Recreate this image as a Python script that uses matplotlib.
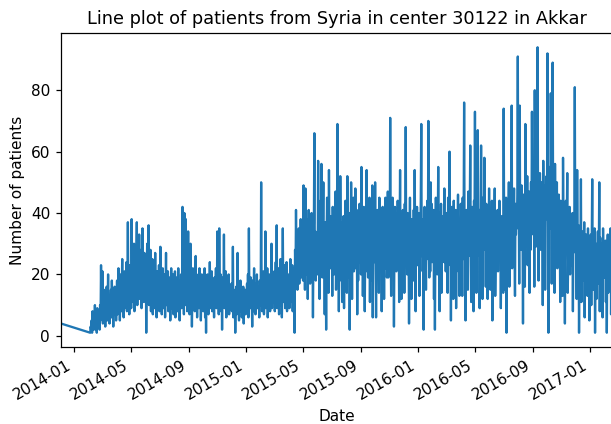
import numpy as np
import pandas as pd
import matplotlib
matplotlib.use("Agg")
import matplotlib.pyplot as plt
import matplotlib.dates as mdates

# daily patient counts, center 30122 (Akkar), patients from Syria
first_date = "2013-12-04"
first_count = 4
daily_start = "2014-02-04"

counts_2014 = [
    1, 3, 2, 5, 1, 8, 4, 2, 6, 3, 10, 2, 5, 7, 1, 9, 4, 6, 3, 8, 2, 10, 5, 23, 6,
    12, 21, 4, 9, 15, 6, 11, 3, 14, 8, 16, 5, 10, 20, 7, 13, 4, 12, 9, 15, 6, 18, 8, 11, 3, 14, 9, 16, 7, 12, 5,
    10, 18, 7, 14, 22, 9, 16, 5, 12, 20, 8, 15, 25, 10, 17, 6, 13, 21, 9, 18, 11, 24, 8, 15, 37, 12, 19, 7, 23, 14,
    20, 9, 38, 15, 26, 11, 22, 30, 8, 18, 27, 13, 24, 37, 10, 21, 29, 14, 33, 12, 25, 17, 28, 9, 20, 35, 16, 23, 11, 27, 19,
    14, 26, 1, 21, 30, 12, 18, 36, 10, 24, 16, 28, 8, 20, 13, 25, 7, 22, 15, 19, 9, 27, 12, 17, 6, 21, 14, 18, 10, 23,
    8, 16, 29, 11, 19, 7, 14, 22, 9, 17, 12, 20, 6, 15, 27, 10, 18, 13, 21, 8, 16, 11, 19, 5, 14, 22, 9, 17, 12, 20, 7,
    15, 10, 21, 6, 17, 12, 19, 8, 14, 22, 11, 16, 5, 18, 13, 20, 9, 15, 42, 12, 19, 7, 40, 16, 10, 38, 14, 21, 8, 17, 34,
    12, 20, 7, 16, 30, 11, 18, 3, 15, 22, 9, 14, 19, 8, 17, 26, 12, 20, 6, 15, 11, 18, 9, 22, 13, 17, 5, 14, 20, 10,
    16, 8, 19, 12, 22, 6, 15, 1, 18, 10, 20, 13, 7, 17, 11, 24, 9, 16, 14, 21, 8, 18, 12, 15, 6, 19, 11, 17, 22, 9, 14,
    34, 12, 18, 7, 35, 15, 10, 20, 8, 16, 2, 14, 19, 11, 33, 9, 17, 13, 21, 6, 15, 12, 18, 10, 20, 7, 14, 16, 9, 13,
    17, 8, 12, 29, 6, 15, 10, 14, 1, 11, 16, 7, 13, 27, 9, 12, 5, 15, 10, 18, 8, 13, 6, 14, 11, 16, 4, 12, 9, 15, 7,
]

counts_2015 = [
    13, 8, 17, 10, 20, 6, 35, 12, 16, 9, 19, 11, 14, 3, 18, 8, 15, 22, 10, 13, 7, 17, 12, 20, 9, 16, 11, 14, 6, 18, 13,
    10, 50, 15, 8, 19, 12, 21, 7, 16, 13, 34, 9, 18, 11, 22, 6, 14, 17, 10, 20, 8, 15, 12, 30, 9, 17, 13, 19,
    11, 21, 8, 16, 24, 12, 36, 9, 18, 14, 22, 7, 17, 13, 25, 10, 19, 6, 15, 35, 11, 20, 14, 23, 9, 17, 12, 24, 8, 18, 15,
    12, 20, 9, 17, 25, 11, 19, 14, 23, 8, 18, 15, 22, 1, 28, 18, 41, 24, 32, 15, 27, 20, 35, 17, 30, 22, 38, 19, 28, 25,
    30, 18, 49, 24, 35, 15, 48, 27, 38, 20, 32, 12, 29, 41, 22, 36, 17, 33, 25, 40, 19, 31, 6, 28, 37, 66, 23, 34, 18, 30, 26,
    32, 20, 57, 27, 38, 12, 30, 44, 22, 56, 29, 19, 35, 50, 25, 33, 7, 37, 27, 2, 31, 45, 23, 36, 14, 54, 28, 34, 22, 39,
    26, 35, 13, 42, 29, 33, 20, 38, 22, 47, 15, 31, 36, 69, 22, 40, 8, 34, 18, 52, 30, 25, 37, 11, 32, 28, 39, 9, 35, 26, 44,
    23, 36, 14, 52, 19, 33, 27, 40, 2, 31, 24, 50, 35, 12, 38, 28, 45, 21, 34, 26, 48, 22, 32, 41, 7, 30, 18, 37, 28, 43, 24,
    35, 20, 55, 28, 38, 13, 32, 42, 25, 8, 30, 36, 22, 54, 21, 40, 19, 33, 29, 45, 11, 37, 18, 31, 26, 49, 6, 34, 28, 41,
    24, 50, 30, 6, 36, 22, 41, 27, 33, 14, 45, 29, 38, 23, 35, 8, 31, 42, 26, 37, 12, 34, 28, 45, 22, 39, 19, 25, 47, 19, 33,
    40, 27, 71, 32, 13, 38, 29, 45, 24, 35, 3, 30, 42, 26, 37, 21, 33, 28, 44, 25, 36, 11, 31, 54, 27, 39, 12, 34, 29, 41,
    26, 37, 14, 43, 30, 68, 25, 35, 20, 40, 22, 33, 4, 31, 45, 27, 36, 12, 38, 29, 34, 18, 41, 26, 54, 32, 8, 37, 28, 42, 23,
]

counts_2016 = [
    33, 27, 40, 13, 36, 30, 45, 69, 26, 38, 21, 34, 2, 31, 42, 28, 37, 15, 35, 29, 44, 25, 70, 33, 19, 39, 21, 50, 30, 43, 24,
    35, 28, 41, 12, 37, 2, 32, 45, 27, 38, 20, 34, 55, 30, 40, 8, 36, 29, 43, 14, 33, 39, 24, 35, 31, 48, 24, 37, 21,
    40, 26, 36, 14, 45, 23, 38, 60, 28, 35, 5, 33, 42, 27, 37, 12, 44, 25, 36, 29, 41, 9, 34, 39, 27, 46, 21, 35, 13, 38, 30,
    43, 27, 37, 13, 45, 25, 39, 76, 29, 36, 5, 34, 41, 28, 38, 15, 47, 26, 35, 40, 62, 30, 11, 24, 42, 33, 36, 8, 44, 31,
    73, 29, 38, 14, 46, 26, 67, 35, 30, 41, 9, 37, 27, 62, 34, 40, 12, 45, 28, 36, 58, 32, 39, 16, 43, 30, 37, 12, 42, 33, 48,
    29, 38, 15, 36, 31, 44, 5, 33, 40, 27, 35, 48, 13, 26, 37, 22, 34, 41, 21, 32, 25, 44, 30, 36, 9, 33, 39, 27, 35, 14,
    74, 32, 40, 15, 38, 45, 1, 35, 42, 29, 37, 50, 16, 27, 44, 31, 39, 75, 22, 28, 41, 36, 48, 30, 13, 43, 33, 40, 35, 46, 91,
    38, 45, 17, 75, 36, 42, 28, 49, 33, 39, 4, 46, 35, 41, 16, 69, 37, 44, 29, 52, 23, 40, 33, 47, 14, 43, 28, 50, 34, 73, 40,
    45, 33, 52, 16, 80, 41, 29, 48, 36, 55, 94, 40, 18, 47, 37, 53, 42, 28, 50, 39, 44, 10, 57, 41, 36, 49, 15, 46, 38, 52,
    43, 92, 37, 1, 48, 40, 55, 35, 79, 44, 17, 51, 89, 41, 33, 47, 14, 56, 36, 45, 30, 50, 22, 42, 28, 46, 35, 40, 11, 44, 37,
    30, 41, 13, 58, 35, 29, 38, 4, 33, 44, 27, 36, 53, 14, 25, 39, 34, 42, 20, 37, 23, 35, 30, 40, 8, 33, 29, 38, 81, 32,
    27, 35, 12, 54, 30, 25, 36, 1, 28, 33, 20, 51, 11, 24, 34, 18, 31, 26, 37, 6, 30, 16, 33, 24, 28, 13, 35, 22, 27, 5, 30,
]

counts_2017 = [
    25, 33, 10, 29, 51, 22, 31, 15, 27, 35, 1, 24, 30, 12, 28, 23, 34, 17, 26, 50, 8, 32, 14, 27, 24, 30, 6, 35, 22, 28, 19,
    26, 31, 11, 29, 1, 24, 33, 14, 27, 18, 30, 22, 35, 7, 25, 21,
]

daily = counts_2014 + counts_2015 + counts_2016 + counts_2017
dates = [pd.Timestamp(first_date)] + list(pd.date_range(daily_start, periods=len(daily), freq="D"))
patients = pd.Series([first_count] + daily, index=pd.DatetimeIndex(dates))

fig = plt.figure(figsize=(611 / 111, 424 / 111), dpi=111)
ax = fig.add_axes([61 / 611, 1 - 347 / 424, 551 / 611, (347 - 33) / 424])

ax.plot(patients.index, patients.values, color="#1f77b4", linewidth=1.5)
ax.set_xlim(patients.index[0], patients.index[-1])

ax.xaxis.set_major_locator(mdates.MonthLocator(bymonth=[1, 5, 9]))
ax.xaxis.set_major_formatter(mdates.DateFormatter("%Y-%m"))
for lbl in ax.get_xticklabels():
    lbl.set_rotation(30)
    lbl.set_ha("right")

ax.set_title("Line plot of patients from Syria in center 30122 in Akkar", fontsize=11.5)
ax.set_xlabel("Date")
ax.set_ylabel("Number of patients")

fig.savefig("out.png", dpi=111)
